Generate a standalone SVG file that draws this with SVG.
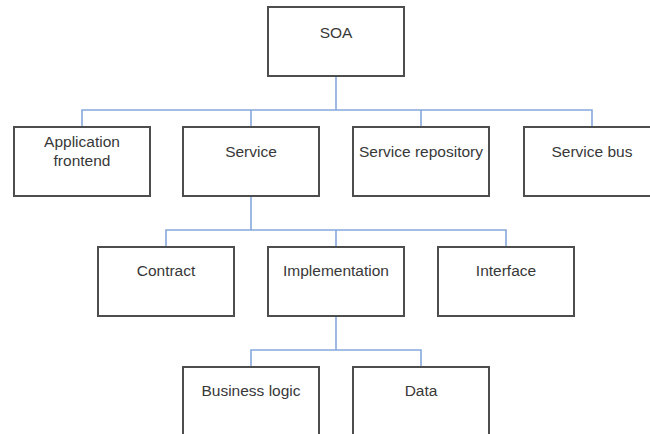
<svg xmlns="http://www.w3.org/2000/svg" width="650" height="434" viewBox="0 0 650 434">
  <style>
    .box rect { fill: #ffffff; stroke: #4d4d4d; stroke-width: 2; }
    .box text { font-family: "Liberation Sans", Arial, sans-serif; font-size: 15.5px; fill: #383838; text-anchor: middle; }
    .link { fill: none; stroke: #86a8dc; stroke-width: 1.6; }
  </style>
  <rect width="650" height="434" fill="#ffffff"/>

  <!-- tree connectors -->
  <g id="connectors">
    <path class="link" d="M336 76 V110 M82 127 V110 H592 V127 M251 110 V127 M421 110 V127"/>
    <path class="link" d="M251 196 V230 M166 247 V230 H506 V247 M336 230 V247"/>
    <path class="link" d="M336 316 V350 M251 367 V350 H421 V367"/>
  </g>

  <g id="soa" class="box">
    <rect x="268" y="7" width="136" height="69"/>
    <text x="336" y="38">SOA</text>
  </g>

  <g id="application-frontend" class="box">
    <rect x="14" y="127" width="136" height="69"/>
    <text x="82" y="147">Application</text>
    <text x="82" y="166">frontend</text>
  </g>
  <g id="service" class="box">
    <rect x="183" y="127" width="136" height="69"/>
    <text x="251" y="157">Service</text>
  </g>
  <g id="service-repository" class="box">
    <rect x="353" y="127" width="136" height="69"/>
    <text x="421" y="157">Service repository</text>
  </g>
  <g id="service-bus" class="box">
    <rect x="524" y="127" width="136" height="69"/>
    <text x="592" y="157">Service bus</text>
  </g>

  <g id="contract" class="box">
    <rect x="98" y="247" width="136" height="69"/>
    <text x="166" y="276">Contract</text>
  </g>
  <g id="implementation" class="box">
    <rect x="268" y="247" width="136" height="69"/>
    <text x="336" y="276">Implementation</text>
  </g>
  <g id="interface" class="box">
    <rect x="438" y="247" width="136" height="69"/>
    <text x="506" y="276">Interface</text>
  </g>

  <g id="business-logic" class="box">
    <rect x="183" y="367" width="136" height="74"/>
    <text x="251" y="396">Business logic</text>
  </g>
  <g id="data" class="box">
    <rect x="353" y="367" width="136" height="74"/>
    <text x="421" y="396">Data</text>
  </g>
</svg>
